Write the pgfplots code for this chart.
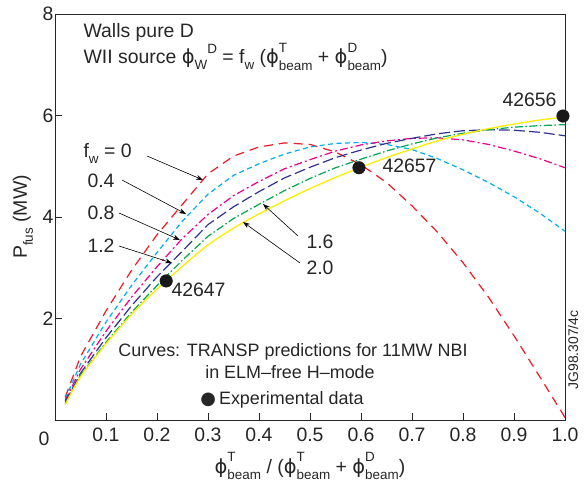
\documentclass[border=0pt]{standalone}
\usepackage{pgfplots}
\pgfplotsset{compat=1.18}
\usepackage{fontspec}
\setmainfont{Liberation Sans}
\newfontfamily\dejavu{DejaVu Sans}
\usetikzlibrary{arrows.meta}
\definecolor{cred}{RGB}{237,28,36}
\definecolor{ccyan}{RGB}{0,174,239}
\definecolor{cmag}{RGB}{236,0,140}
\definecolor{cblue}{RGB}{46,49,146}
\definecolor{cgreen}{RGB}{0,166,81}
\definecolor{cyel}{RGB}{255,237,0}
\newcommand{\sm}{\fontsize{13.5}{14}\selectfont}
\newcommand{\ph}{{\dejavu ϕ}}
\newcommand{\phib}[1]{\ph\rlap{\raisebox{0.6em}{\sm #1}}\raisebox{-0.32em}{\sm beam}}
\newcommand{\bigf}{\fontsize{19.5}{22}\selectfont}
\pgfplotstableread{
x     red   cyan  mag   blue  green yel
0.02  0.45  0.42  0.38  0.35  0.32  0.30
0.05  1.25  1.10  1.00  0.92  0.88  0.85
0.10  2.15  1.93  1.75  1.62  1.53  1.50
0.15  2.95  2.65  2.42  2.25  2.12  2.08
0.20  3.65  3.30  3.02  2.82  2.65  2.58
0.25  4.25  3.92  3.58  3.33  3.15  3.03
0.30  4.85  4.45  4.05  3.85  3.62  3.45
0.35  5.20  4.82  4.42  4.20  3.97  3.78
0.40  5.38  5.05  4.70  4.50  4.25  4.06
0.45  5.46  5.24  4.95  4.77  4.52  4.32
0.50  5.43  5.38  5.13  4.98  4.76  4.56
0.55  5.28  5.45  5.30  5.17  4.97  4.78
0.60  5.03  5.47  5.42  5.32  5.14  4.98
0.65  4.68  5.43  5.50  5.45  5.30  5.17
0.70  4.22  5.33  5.55  5.55  5.44  5.34
0.75  3.70  5.15  5.56  5.64  5.56  5.50
0.80  3.10  4.93  5.52  5.70  5.65  5.63
0.85  2.42  4.68  5.43  5.72  5.72  5.74
0.90  1.66  4.40  5.30  5.71  5.77  5.83
0.95  0.86  4.08  5.15  5.67  5.80  5.91
1.00  0.05  3.72  4.97  5.60  5.82  5.97
}\curves
\begin{document}
\begin{tikzpicture}[font=\bigf]
\path[use as bounding box] (0,0) rectangle (585bp,484bp);
\begin{axis}[
  at={(55bp,64bp)}, anchor=south west,
  scale only axis, width=510bp, height=406bp,
  xmin=0, xmax=1, ymin=0, ymax=8,
  xtick={0.1,0.2,0.3,0.4,0.5,0.6,0.7,0.8,0.9,1.0},
  xticklabels={0.1,0.2,0.3,0.4,0.5,0.6,0.7,0.8,0.9,1.0},
  ytick={2,4,6,8}, yticklabels={2,4,6,8},
  xtick pos=left, ytick pos=left, tick align=inside,
  major tick length=7bp,
  axis line style={line width=0.8pt, black!85},
  every tick/.style={line width=0.8pt, black!85},
  tick label style={font=\bigf, text=black!85},
  xticklabel style={yshift=-4bp},
  yticklabel style={xshift=2bp},
  xlabel={\phib{T} / (\phib{T} + \phib{D})},
  xlabel style={at={(axis description cs:0.5,0)}, anchor=base, yshift=-53bp, text=black!85, font=\bigf},
  ylabel={P\raisebox{-0.3em}{\sm fus} (MW)},
  ylabel style={at={(axis description cs:-0.055,0.5)}, anchor=base, text=black!85, font=\bigf},
  clip=true,
]
\addplot[cred, line width=1.2pt, dash pattern=on 9bp off 6bp] table[x=x,y=red]{\curves};
\addplot[ccyan, line width=1.2pt, dash pattern=on 5bp off 3.5bp] table[x=x,y=cyan]{\curves};
\addplot[cmag, line width=1.2pt, dash pattern=on 8bp off 3bp on 2bp off 3bp] table[x=x,y=mag]{\curves};
\addplot[cblue, line width=1.2pt, dash pattern=on 11bp off 4bp] table[x=x,y=blue]{\curves};
\addplot[cgreen, line width=1.2pt, dash pattern=on 8bp off 2.5bp on 1.5bp off 2.5bp] table[x=x,y=green]{\curves};
\addplot[cyel, line width=1.3pt, smooth] table[x=x,y=yel]{\curves};
\addplot[only marks, mark=*, mark size=6.3bp, black!90, clip=false] coordinates {(0.218,2.74) (0.596,4.97) (0.996,5.99)};
\end{axis}
% corner zero
\node[text=black!85] at (44bp,45bp) {0};
% title text
\node[anchor=base west, text=black!85] at (80bp,446bp) {Walls pure D};
\node[anchor=base west, text=black!85] at (80bp,420bp) {WII source \ph\raisebox{-0.3em}{\sm W}\raisebox{0.55em}{\sm D} = f\raisebox{-0.3em}{\sm w} (\phib{T} + \phib{D})};
% curve labels
\node[anchor=base west, text=black!85] at (80bp,326bp) {f\raisebox{-0.3em}{\sm w} = 0};
\node[anchor=base west, text=black!85] at (84bp,296bp) {0.4};
\node[anchor=base west, text=black!85] at (84bp,264bp) {0.8};
\node[anchor=base west, text=black!85] at (84bp,231bp) {1.2};
\node[anchor=base west, text=black!85] at (303bp,235bp) {1.6};
\node[anchor=base west, text=black!85] at (303bp,209bp) {2.0};
\begin{scope}[line width=0.6pt, -{Stealth[length=7bp,width=5bp]}]
\draw (147bp,328bp) -- (203bp,304bp);
\draw (122bp,304bp) -- (186bp,270bp);
\draw (119bp,271bp) -- (180bp,244bp);
\draw (119bp,238bp) -- (172bp,221bp);
\draw (298bp,248bp) -- (263bp,280bp);
\draw (300bp,221bp) -- (243bp,262bp);
\end{scope}
% shot labels
\node[anchor=base west, text=black!85] at (168bp,187bp) {42647};
\node[anchor=base west, text=black!85] at (379bp,311bp) {42657};
\node[anchor=base west, text=black!85] at (499bp,377bp) {42656};
% description
\node[anchor=base, text=black!85, font=\fontsize{18}{21}\selectfont] at (293bp,127bp) {Curves: TRANSP predictions for 11MW NBI};
\node[anchor=base, text=black!85, font=\fontsize{18}{21}\selectfont] at (290bp,105bp) {in ELM–free H–mode};
\node[anchor=base, text=black!85, font=\fontsize{18}{21}\selectfont] at (282bp,79bp) {{\dejavu\fontsize{18}{18}\selectfont ●}\,Experimental data};
\node[anchor=base, rotate=90, text=black!85, font=\fontsize{14}{15}\selectfont] at (578bp,134bp) {JG98.307/4c};
\end{tikzpicture}
\end{document}
